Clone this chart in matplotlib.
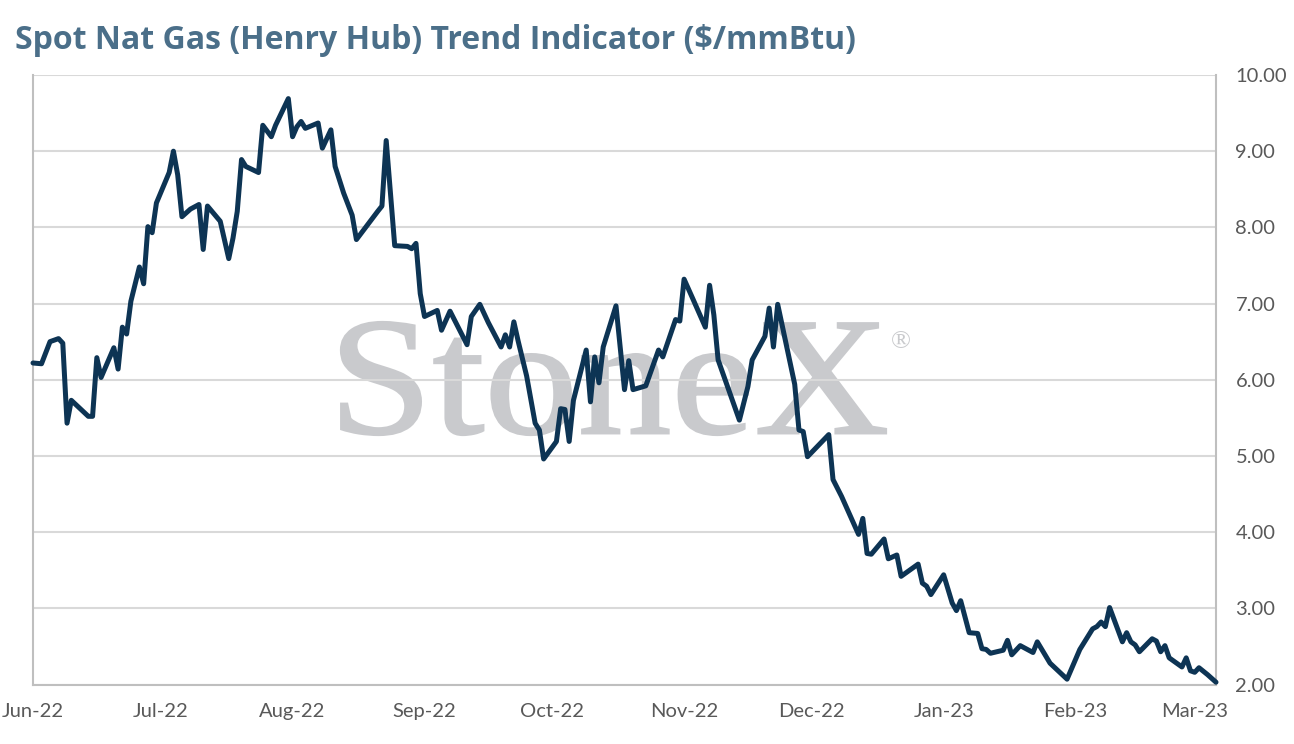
import matplotlib
matplotlib.use("Agg")
import matplotlib.pyplot as plt
import numpy as np
import pandas as pd
from matplotlib.textpath import TextPath
from matplotlib.patches import PathPatch
from matplotlib.font_manager import FontProperties
from matplotlib.transforms import Affine2D, IdentityTransform
from matplotlib.ticker import FormatStrFormatter, FixedLocator

title = "Spot Nat Gas (Henry Hub) Trend Indicator ($/mmBtu)"

dates = [
    "2022-06-01", "2022-06-03", "2022-06-05", "2022-06-07", "2022-06-08", "2022-06-09",
    "2022-06-10", "2022-06-14", "2022-06-15", "2022-06-16", "2022-06-17", "2022-06-20",
    "2022-06-21", "2022-06-22", "2022-06-23", "2022-06-24", "2022-06-26", "2022-06-27",
    "2022-06-28", "2022-06-29", "2022-06-30", "2022-07-03", "2022-07-04", "2022-07-05",
    "2022-07-06", "2022-07-08", "2022-07-10", "2022-07-11", "2022-07-12", "2022-07-15",
    "2022-07-17", "2022-07-18", "2022-07-19", "2022-07-20", "2022-07-21", "2022-07-24",
    "2022-07-25", "2022-07-27", "2022-07-28", "2022-07-31", "2022-08-01", "2022-08-02",
    "2022-08-03", "2022-08-04", "2022-08-07", "2022-08-08", "2022-08-10", "2022-08-11",
    "2022-08-13", "2022-08-15", "2022-08-16", "2022-08-21", "2022-08-22", "2022-08-23",
    "2022-08-25", "2022-08-28", "2022-08-29", "2022-08-30", "2022-08-31", "2022-09-01",
    "2022-09-04", "2022-09-05", "2022-09-07", "2022-09-11", "2022-09-12", "2022-09-14",
    "2022-09-16", "2022-09-19", "2022-09-20", "2022-09-21", "2022-09-22", "2022-09-23",
    "2022-09-25", "2022-09-27", "2022-09-28", "2022-09-29", "2022-10-02", "2022-10-03",
    "2022-10-04", "2022-10-05", "2022-10-06", "2022-10-09", "2022-10-10", "2022-10-11",
    "2022-10-12", "2022-10-13", "2022-10-16", "2022-10-18", "2022-10-19", "2022-10-20",
    "2022-10-23", "2022-10-26", "2022-10-27", "2022-10-30", "2022-10-31", "2022-11-01",
    "2022-11-03", "2022-11-06", "2022-11-07", "2022-11-08", "2022-11-09", "2022-11-14",
    "2022-11-16", "2022-11-17", "2022-11-20", "2022-11-21", "2022-11-22", "2022-11-23",
    "2022-11-27", "2022-11-28", "2022-11-29", "2022-11-30", "2022-12-05", "2022-12-06",
    "2022-12-08", "2022-12-12", "2022-12-13", "2022-12-14", "2022-12-15", "2022-12-18",
    "2022-12-19", "2022-12-21", "2022-12-22", "2022-12-26", "2022-12-27", "2022-12-28",
    "2022-12-29", "2023-01-01", "2023-01-03", "2023-01-04", "2023-01-05", "2023-01-07",
    "2023-01-09", "2023-01-10", "2023-01-11", "2023-01-12", "2023-01-15", "2023-01-16",
    "2023-01-17", "2023-01-19", "2023-01-22", "2023-01-23", "2023-01-26", "2023-01-30",
    "2023-02-02", "2023-02-05", "2023-02-06", "2023-02-07", "2023-02-08", "2023-02-09",
    "2023-02-12", "2023-02-13", "2023-02-14", "2023-02-15", "2023-02-16", "2023-02-19",
    "2023-02-20", "2023-02-21", "2023-02-22", "2023-02-23", "2023-02-26", "2023-02-27",
    "2023-02-28", "2023-03-01", "2023-03-02", "2023-03-04", "2023-03-06",
]

prices = [
    6.22, 6.21, 6.50, 6.54, 6.48, 5.43,
    5.73, 5.52, 5.52, 6.29, 6.03, 6.42,
    6.14, 6.69, 6.60, 7.03, 7.48, 7.26,
    8.01, 7.93, 8.32, 8.72, 9.00, 8.69,
    8.14, 8.24, 8.30, 7.71, 8.28, 8.08,
    7.59, 7.86, 8.21, 8.89, 8.80, 8.72,
    9.34, 9.19, 9.34, 9.69, 9.19, 9.32,
    9.39, 9.30, 9.37, 9.04, 9.28, 8.80,
    8.45, 8.16, 7.84, 8.21, 8.28, 9.14,
    7.76, 7.75, 7.72, 7.79, 7.13, 6.83,
    6.91, 6.65, 6.90, 6.46, 6.83, 6.99,
    6.75, 6.43, 6.59, 6.43, 6.76, 6.51,
    6.05, 5.43, 5.34, 4.96, 5.19, 5.62,
    5.61, 5.19, 5.73, 6.39, 5.71, 6.30,
    5.96, 6.43, 6.97, 5.87, 6.25, 5.87,
    5.92, 6.39, 6.30, 6.79, 6.77, 7.32,
    7.07, 6.69, 7.24, 6.85, 6.26, 5.47,
    5.91, 6.26, 6.57, 6.94, 6.43, 6.99,
    5.94, 5.34, 5.32, 4.99, 5.28, 4.69,
    4.47, 3.97, 4.18, 3.72, 3.71, 3.91,
    3.65, 3.70, 3.42, 3.58, 3.33, 3.29,
    3.18, 3.44, 3.07, 2.97, 3.10, 2.68,
    2.67, 2.47, 2.46, 2.41, 2.45, 2.58,
    2.39, 2.51, 2.42, 2.56, 2.28, 2.07,
    2.46, 2.73, 2.76, 2.82, 2.76, 3.01,
    2.56, 2.68, 2.56, 2.52, 2.43, 2.60,
    2.57, 2.43, 2.51, 2.35, 2.23, 2.35,
    2.18, 2.16, 2.22, 2.13, 2.03,
]

month_ticks = ["2022-06-01", "2022-07-01", "2022-08-01", "2022-09-01", "2022-10-01",
               "2022-11-01", "2022-12-01", "2023-01-01", "2023-02-01", "2023-03-01"]
month_labels = ["Jun-22", "Jul-22", "Aug-22", "Sep-22", "Oct-22",
                "Nov-22", "Dec-22", "Jan-23", "Feb-23", "Mar-23"]
y_ticks = [2, 3, 4, 5, 6, 7, 8, 9, 10]

LINE = "#0d3454"
TXT = "#595959"
GRID = "#d9d9d9"
SPINE = "#bfbfbf"
TITLE_C = "#4b6f89"
WM = "#c9cacd"

W, H = 1294, 744
fig = plt.figure(figsize=(W / 100, H / 100), dpi=100)
ax = fig.add_axes([33 / W, 1 - 684.5 / H, (1216 - 33) / W, (684.5 - 75) / H])

x = pd.to_datetime(dates)
ax.plot(x, prices, color=LINE, lw=3.6, solid_joinstyle="round",
        solid_capstyle="round", zorder=3, clip_on=False)

ax.set_xlim(pd.Timestamp("2022-06-01"), pd.Timestamp("2023-03-06"))
ax.set_ylim(2, 10)
ax.yaxis.tick_right()
ax.yaxis.set_major_locator(FixedLocator(y_ticks))
ax.yaxis.set_major_formatter(FormatStrFormatter("%.2f"))
ax.set_xticks(pd.to_datetime(month_ticks))
ax.set_xticklabels(month_labels)

for lab in ax.get_xticklabels() + ax.get_yticklabels():
    lab.set_fontfamily(["Lato", "DejaVu Sans"])
    lab.set_fontsize(14.5)
    lab.set_color(TXT)
ax.tick_params(axis="both", length=0)
ax.tick_params(axis="x", pad=13)
ax.tick_params(axis="y", pad=14)

ax.grid(axis="y", color=GRID, lw=1.5, zorder=1)
ax.grid(axis="x", visible=False)
for s in ["left", "right", "bottom"]:
    ax.spines[s].set_color(SPINE)
    ax.spines[s].set_linewidth(1.5)
ax.spines["top"].set_visible(False)

# Watermark
fp = FontProperties(family="Liberation Serif")
tp = TextPath((0, 0), "StoneX", size=1, prop=fp)
ext = tp.get_extents()
x0, x1 = 341, 886
ytop, ybot = 322, 435
sx = (x1 - x0) / ext.width
sy = (ybot - ytop) / ext.height
tr = Affine2D().translate(-ext.x0, -ext.y0).scale(sx, sy).translate(x0, H - ybot)
patch = PathPatch(tr.transform_path(tp), facecolor=WM, edgecolor=WM, lw=1.6,
                  transform=IdentityTransform(), zorder=0.8, clip_on=False)
ax.add_artist(patch)
fig.text(901 / W, 1 - 342 / H, "®", color=WM, fontsize=19, ha="center", va="center",
         family=["Liberation Serif", "DejaVu Sans"], zorder=0.9)

fig.text(15 / W, 1 - 49 / H, title, color=TITLE_C, fontsize=23, fontweight="bold",
         family=["Open Sans", "DejaVu Sans"], ha="left", va="baseline")

fig.savefig("out.png", dpi=100)
